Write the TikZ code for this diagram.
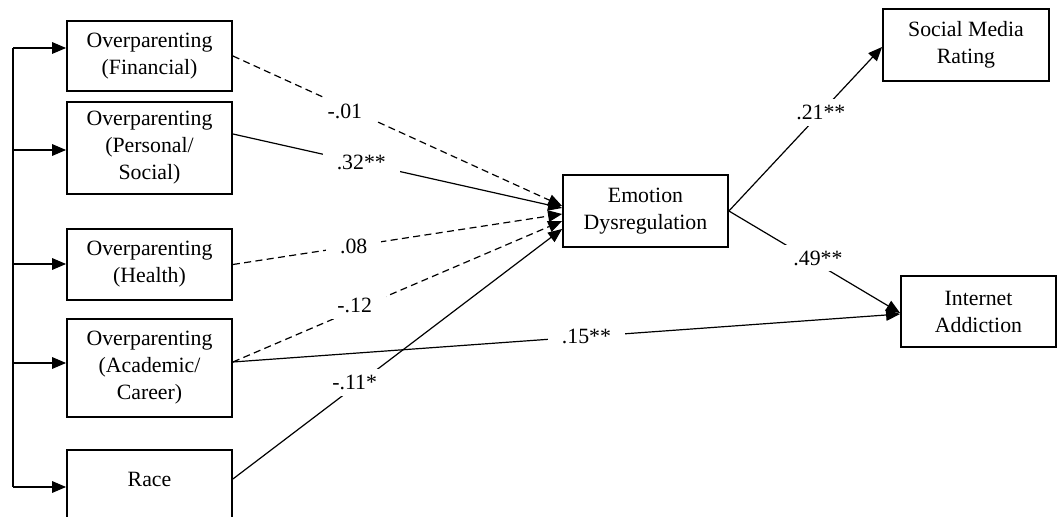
\documentclass[tikz,border=0pt]{standalone}
\usepackage{fontspec}
\setmainfont{Liberation Serif}
\usetikzlibrary{arrows.meta,calc}
\begin{document}
\begin{tikzpicture}[x=0.5pt,y=-0.5pt,
  txt/.style={align=center,inner sep=0pt,font=\fontsize{10.9}{13.5}\selectfont},
  box/.style={txt,draw,line width=0.9pt},
  con/.style={line width=0.6pt,-{Triangle[length=7pt,width=5.8pt]}},
  dsh/.style={con,dash pattern=on 3.5pt off 2.2pt},
  lbl/.style={txt,fill=white,inner xsep=7pt,inner ysep=3pt}]
\clip (0,0) rectangle (1057,517);
% left boxes
\node[box,minimum width=82.5pt,minimum height=35pt] (b1) at (149.5,56) {Overparenting\\(Financial)};
\node[box,minimum width=82.5pt,minimum height=46pt] (b2) at (149.5,148) {Overparenting\\(Personal/\\Social)};
\node[box,minimum width=82.5pt,minimum height=35.5pt] (b3) at (149.5,264.5) {Overparenting\\(Health)};
\node[box,minimum width=82.5pt,minimum height=49pt] (b4) at (149.5,368) {Overparenting\\(Academic/\\Career)};
\node[box,minimum width=82.5pt,minimum height=47.5pt] (racebox) at (149.5,497.5) {};
\node[txt] (race) at (149.5,479) {Race};
% middle and right boxes
\node[box,minimum width=82.5pt,minimum height=36pt] (emo) at (645.5,211) {Emotion\\Dysregulation};
\node[box,minimum width=83pt,minimum height=36pt] (sm) at (966,45) {Social Media\\Rating};
\node[box,minimum width=77.5pt,minimum height=35.5pt] (ia) at (978.5,311.5) {Internet\\Addiction};
% left bracket
\coordinate (L1) at (13,48);
\coordinate (L2) at (13,150);
\coordinate (L3) at (13,264);
\coordinate (L4) at (13,363);
\coordinate (L5) at (13,487);
\draw[line width=0.6pt] (L1) -- (L5);
\draw[con] (L1) -- (L1 -| b1.west);
\draw[con] (L2) -- (L2 -| b2.west);
\draw[con] (L3) -- (L3 -| b3.west);
\draw[con] (L4) -- (L4 -| b4.west);
\draw[con] (L5) -- (L5 -| racebox.west);
% paths to emotion dysregulation
\draw[dsh] (b1.east) -- node[lbl,pos=0.34,yshift=-2pt]{-.01} ($(emo.west)+(0,-5)$);
\draw[con] ($(b2.east)+(0,-14)$) -- node[lbl,pos=0.39]{.32**} ($(emo.west)+(0,-3)$);
\draw[dsh] (b3.east) -- node[lbl,pos=0.367]{.08} ($(emo.west)+(0,3)$);
\draw[dsh] ($(b4.east)+(0,-6)$) -- node[lbl,pos=0.37,yshift=2pt]{-.12} ($(emo.west)+(0,10)$);
\draw[con] (race.east -| racebox.east) -- node[lbl,pos=0.37,yshift=2pt]{-.11*} ($(emo.west)+(0,18)$);
% direct path
\draw[con] ($(b4.east)+(0,-6)$) -- node[lbl,pos=0.53]{.15**} ($(ia.west)+(0,2.5)$);
% outcomes
\draw[con] (emo.east) -- node[lbl,pos=0.6]{.21**} ($(sm.west)+(0,2)$);
\draw[con] (emo.east) -- node[lbl,pos=0.52,yshift=3pt]{.49**} ($(ia.west)+(0,1.5)$);
\end{tikzpicture}
\end{document}
